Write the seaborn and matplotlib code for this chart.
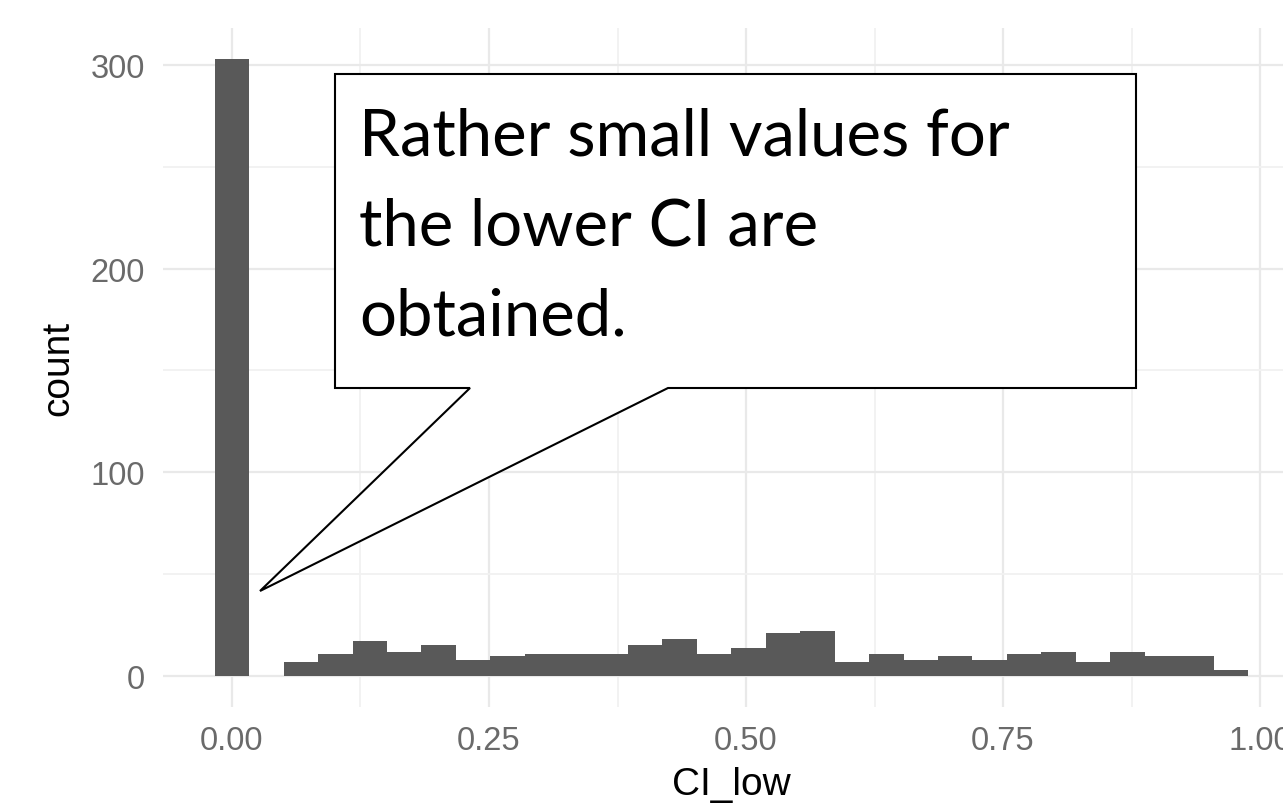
import seaborn as sns
import matplotlib.pyplot as plt
from matplotlib.patches import Polygon
from matplotlib.ticker import FixedLocator

# bin mids of CI_low histogram (30 bins) and counts
bin_mid = [0.0000, 0.0335, 0.0670, 0.1005, 0.1340, 0.1675, 0.2010, 0.2345, 0.2680, 0.3015,
           0.3350, 0.3685, 0.4020, 0.4355, 0.4690, 0.5025, 0.5360, 0.5695, 0.6030, 0.6365,
           0.6700, 0.7035, 0.7370, 0.7705, 0.8040, 0.8375, 0.8710, 0.9045, 0.9380, 0.9715]
counts = [303, 0, 7, 11, 17, 12, 15, 8, 10, 11,
          11, 11, 15, 18, 11, 14, 21, 22, 7, 11,
          8, 10, 8, 11, 12, 7, 12, 10, 10, 3]
bin_w = 0.0335

x_ticks = [0.0, 0.25, 0.5, 0.75, 1.0]
x_tick_labels = ['0.00', '0.25', '0.50', '0.75', '1.00']
y_ticks = [0, 100, 200, 300]

note_lines = ['Rather small values for', 'the lower CI are', 'obtained.']

W, H = 1283, 804
fig = plt.figure(figsize=(W / 100, H / 100), dpi=100)
sns.set_style('white')
plt.rcParams['font.family'] = ['Liberation Sans', 'DejaVu Sans']

# panel in pixels: left 163, right 1299 (cut off by the image), top 29, bottom 708
ax = fig.add_axes([163 / W, 1 - 708 / H, (1299 - 163) / W, (708 - 29) / H])
sns.histplot(x=bin_mid, weights=counts, bins=len(bin_mid),
             binrange=(bin_mid[0] - bin_w / 2, bin_mid[-1] + bin_w / 2),
             color='#595959', alpha=1, edgecolor='none', linewidth=0, ax=ax, zorder=2)

ax.set_xlim(-0.0671, 1.0379)
ax.set_ylim(-15.2, 318.1)
ax.set_xticks(x_ticks)
ax.set_xticklabels(x_tick_labels)
ax.set_yticks(y_ticks)
ax.xaxis.set_minor_locator(FixedLocator([0.125, 0.375, 0.625, 0.875]))
ax.yaxis.set_minor_locator(FixedLocator([50, 150, 250]))
ax.grid(which='major', color='#e9e9e9', linewidth=1.6, zorder=0)
ax.grid(which='minor', color='#f1f1f1', linewidth=1.3, zorder=0)
ax.set_axisbelow(True)
ax.tick_params(which='both', length=0, labelsize=23.5, labelcolor='#6a6a6a', pad=13)
for s in ax.spines.values():
    s.set_visible(False)

ax.set_xlabel('CI_low', fontsize=28, color='black')
ax.set_ylabel('count', fontsize=28, color='black')
ax.xaxis.set_label_coords(0.5, -0.087)
ax.yaxis.set_label_coords(-0.076, 0.5)

# speech-bubble callout drawn over the chart (figure pixels)
bubble = [(335, 75), (1136, 75), (1136, 389), (668, 389), (260, 592),
          (470, 389), (335, 389)]
poly = Polygon([(px / W, 1 - py / H) for px, py in bubble], closed=True,
               facecolor='white', edgecolor='black', linewidth=1.5,
               transform=fig.transFigure, zorder=5)
fig.patches.append(poly)

for i, line in enumerate(note_lines):
    fig.text(359 / W, 1 - (155 + 90 * i) / H, line, fontsize=47, family='Lato',
             color='black', ha='left', va='baseline', zorder=6)

fig.savefig('out.png', dpi=100)
